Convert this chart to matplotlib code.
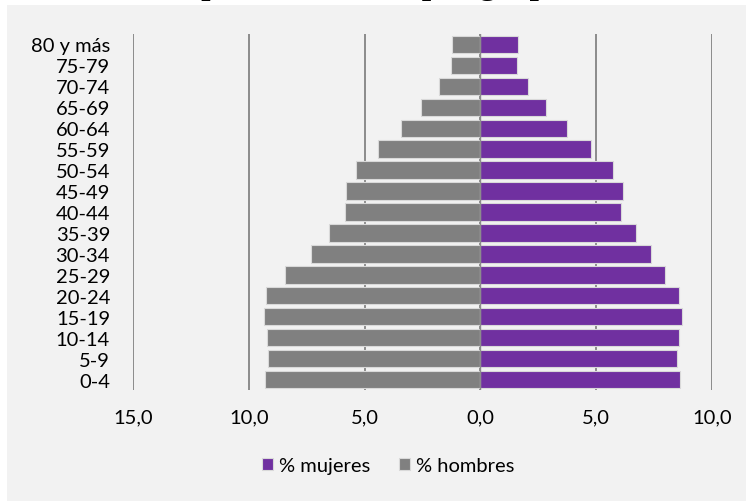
import matplotlib
matplotlib.use("Agg")
import matplotlib.pyplot as plt
from matplotlib.patches import Rectangle

# --- DATA ---
grupos = ['0-4', '5-9', '10-14', '15-19', '20-24', '25-29', '30-34', '35-39',
          '40-44', '45-49', '50-54', '55-59', '60-64', '65-69', '70-74',
          '75-79', '80 y más']
hombres = [9.32, 9.16, 9.22, 9.35, 9.25, 8.44, 7.30, 6.55,
           5.83, 5.80, 5.39, 4.41, 3.43, 2.58, 1.79, 1.28, 1.22]
mujeres = [8.61, 8.50, 8.56, 8.69, 8.56, 7.97, 7.36, 6.73,
           6.08, 6.15, 5.72, 4.78, 3.73, 2.84, 2.05, 1.56, 1.64]
xticks = [-15, -10, -5, 0, 5, 10]
xlabels = ['15,0', '10,0', '5,0', '0,0', '5,0', '10,0']
titulo = 'Estructura de la población total por grupos de edad, 2010'

plt.rcParams['font.family'] = ['Lato', 'DejaVu Sans']
FS = 14.5

fig = plt.figure(figsize=(7.46, 5.02), dpi=100)
fig.patch.set_facecolor('white')
# grey chart area (cropped screenshot: title above is cut off)
fig.patches.append(Rectangle((7/746, 0), 1, 1 - 6/502, transform=fig.transFigure,
                             facecolor='#F2F2F2', edgecolor='none', zorder=-5))
fig.text(-0.052, 1 + 6/502, titulo, ha='left', va='baseline',
         fontsize=24, fontweight='bold', family='Liberation Serif', zorder=5)

ax = fig.add_axes([133/746, 1 - 391/502, (712 - 133)/746, (391 - 35)/502])
ax.set_facecolor('none')

y = list(range(len(grupos)))
ax.barh(y, [-h for h in hombres], height=0.83, color='#808080',
        edgecolor='#D9D9D9', linewidth=0.8, label='% hombres', zorder=2)
ax.barh(y, mujeres, height=0.83, color='#7030A0',
        edgecolor='#D9D9D9', linewidth=0.8, label='% mujeres', zorder=2)
ax.axvline(0, color='#8C8C8C', lw=1.0, zorder=3)

ax.set_xlim(-15, 10)
ax.set_ylim(-0.5, len(grupos) - 0.5)
ax.set_xticks(xticks)
ax.set_xticklabels(xlabels)
ax.set_yticks(y)
ax.set_yticklabels(grupos)
ax.grid(axis='x', color='#8C8C8C', lw=1.4, zorder=1)
ax.set_axisbelow(True)
for s in ax.spines.values():
    s.set_visible(False)
ax.tick_params(axis='x', length=0, pad=13, labelsize=FS, colors='black')
ax.tick_params(axis='y', length=0, pad=16.5, labelsize=FS, colors='black')

h, l = ax.get_legend_handles_labels()
fig.legend([h[1], h[0]], [l[1], l[0]], loc='center', bbox_to_anchor=(388/746, 1 - 467/502),
           ncol=2, frameon=False, fontsize=FS, handlelength=0.55, handleheight=0.55,
           handletextpad=0.3, columnspacing=1.4)

fig.savefig('out.png', dpi=100, facecolor=fig.get_facecolor())
